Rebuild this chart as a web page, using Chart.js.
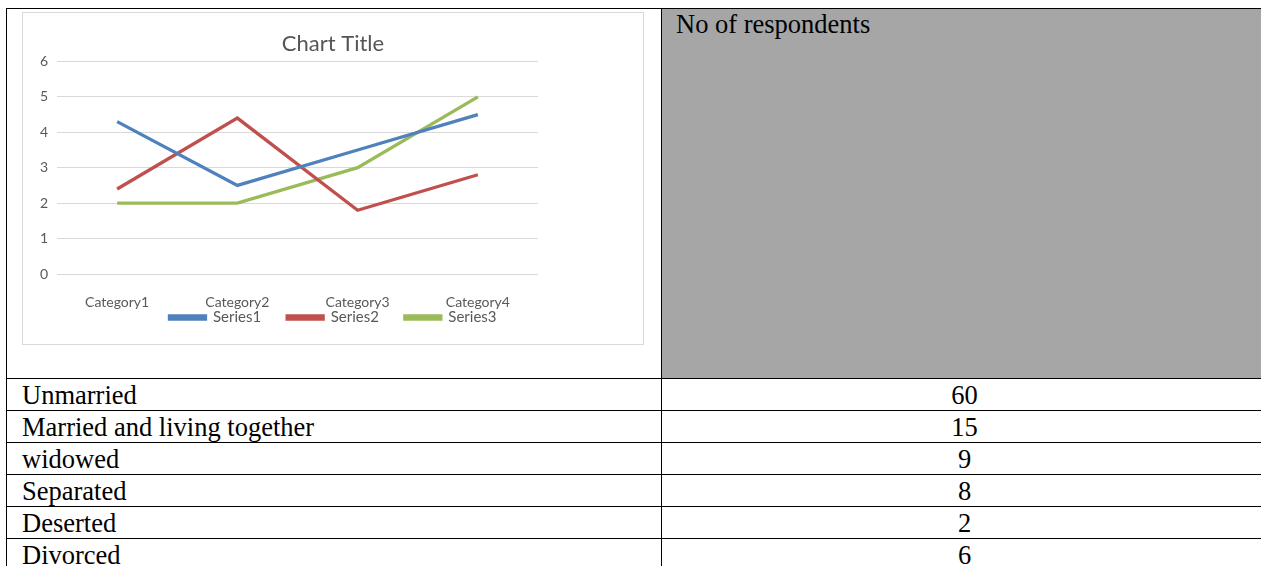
<!DOCTYPE html>
<html>
<head>
<meta charset="utf-8">
<script src="https://cdn.jsdelivr.net/npm/chart.js@4.4.0/dist/chart.umd.min.js"></script>
<style>
    html, body { margin: 0; padding: 0; background: #fff; }
    body { width: 1261px; height: 566px; overflow: hidden; position: relative; }

    table {
        position: absolute; left: 6px; top: 8px;
        border-collapse: collapse; table-layout: fixed;
        width: 1262px;
        font-family: "Liberation Serif", "Times New Roman", serif;
        font-size: 26.5px; color: #000;
    }
    td {
        border: 1px solid #000;
        padding: 2px 0 0 15px;
        line-height: 29px; height: 31px; box-sizing: border-box;
        vertical-align: top; white-space: nowrap; overflow: hidden;
    }
    td.num { text-align: center; padding-left: 0; }
    tr.head td { height: 370px; padding-top: 1px; }
    td.gray { background: #a6a6a6; padding-left: 14px; }

    #chartBox {
        position: absolute; left: 22px; top: 12px;
        width: 620px; height: 331px;
        border: 1px solid #d9d9d9; background: #fff;
        overflow: hidden;
    }
    #chartBox canvas { position: absolute; left: 0; top: 0; }
</style>
</head>
<body>

<table id="tbl">
    <colgroup><col style="width:655px"><col></colgroup>
    <tr class="head"><td></td><td class="gray">No of respondents</td></tr>
</table>

<div id="chartBox"><canvas id="lineChart" width="620" height="331"></canvas></div>

<script>
document.addEventListener('DOMContentLoaded', () => {
    // ========== DATA ========== //
    const categories = ['Category1', 'Category2', 'Category3', 'Category4'];
    const series1 = [4.3, 2.5, 3.5, 4.5];
    const series2 = [2.4, 4.4, 1.8, 2.8];
    const series3 = [2, 2, 3, 5];
    const seriesNames = ['Series1', 'Series2', 'Series3'];
    const yTicks = [0, 1, 2, 3, 4, 5, 6];

    const statusLabels = ['Unmarried', 'Married and living together', 'widowed', 'Separated', 'Deserted', 'Divorced'];
    const respondents = [60, 15, 9, 8, 2, 6];

    // ========== TABLE ROWS ========== //
    const tbl = document.querySelector('#tbl');
    statusLabels.forEach((label, i) => {
        const tr = document.createElement('tr');
        tr.innerHTML = `<td>${label}</td><td class="num">${respondents[i]}</td>`;
        tbl.appendChild(tr);
    });

    // ========== CHART ========== //
    const colors = ['#4f81bd', '#c0504d', '#9bbb59'];
    const grey = '#595959';
    const font = 'Lato';

    const datasets = [series1, series2, series3].map((values, i) => ({
        label: seriesNames[i],
        data: values,
        borderColor: colors[i],
        backgroundColor: colors[i],
        borderWidth: 3.3,
        pointRadius: 0,
        tension: 0
    }));

    new Chart(document.getElementById('lineChart'), {
        type: 'line',
        data: { labels: categories, datasets },
        options: {
            responsive: false,
            animation: false,
            layout: { padding: { left: 0, right: 0, top: 0, bottom: 9 } },
            plugins: {
                title: {
                    display: true,
                    text: 'Chart Title',
                    color: '#555',
                    font: { family: font, size: 22, weight: 'normal' },
                    padding: { top: 18, bottom: 4 }
                },
                legend: {
                    position: 'bottom',
                    labels: {
                        color: grey,
                        font: { family: font, size: 15 },
                        boxWidth: 36,
                        boxHeight: 3,
                        padding: 26
                    }
                },
                tooltip: { enabled: false }
            },
            scales: {
                x: {
                    offset: true,
                    grid: { display: false, drawTicks: false },
                    border: { display: false },
                    ticks: { color: grey, font: { family: font, size: 14 }, padding: 20, maxRotation: 0 },
                    // squeeze the axis so the legend sits tight under the labels, and let labels draw past it
                    afterFit: (scale) => {
                        scale.height = 10;
                        scale._computeLabelArea = () => null;
                    }
                },
                y: {
                    min: yTicks[0],
                    max: yTicks[yTicks.length - 1],
                    grid: { color: '#d9d9d9', drawTicks: false },
                    border: { display: false },
                    ticks: { stepSize: 1, color: grey, font: { family: font, size: 14 }, padding: 9 },
                    afterFit: (scale) => { scale.width = 34; }
                },
                // empty right-hand space, like the Excel plot area
                yRight: {
                    position: 'right',
                    grid: { display: false, drawTicks: false },
                    border: { display: false },
                    ticks: { display: false },
                    afterFit: (scale) => { scale.width = 105; }
                }
            }
        }
    });
});
</script>
</body>
</html>
